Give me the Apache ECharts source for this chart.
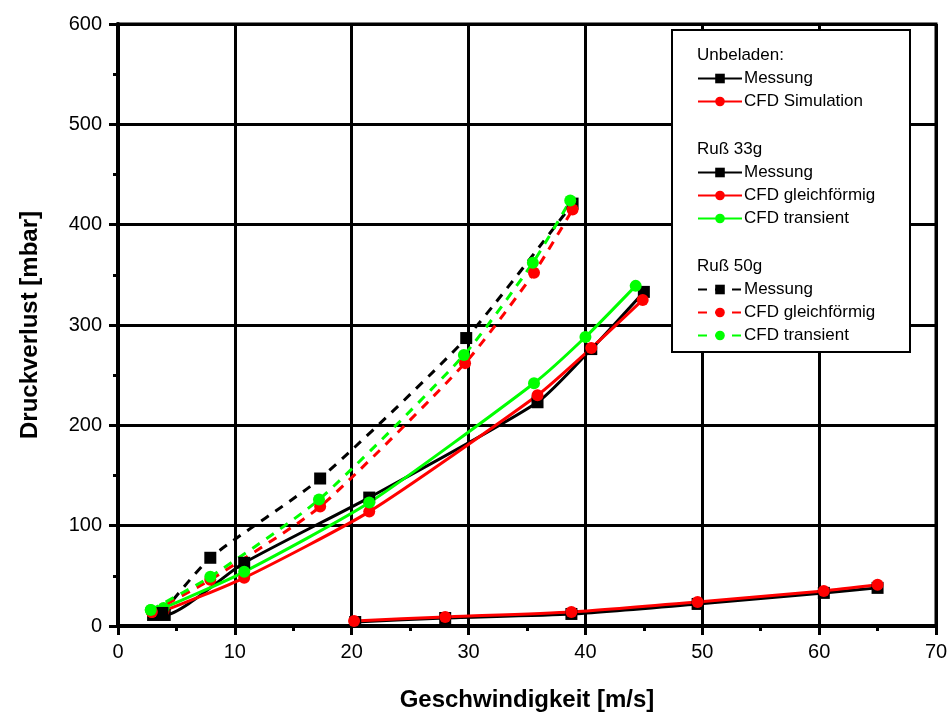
<!DOCTYPE html>
<html>
<head>
<meta charset="utf-8">
<script src="https://cdn.jsdelivr.net/npm/echarts@6/dist/echarts.min.js"></script>
<style>html,body{margin:0;padding:0;background:#fff;}#c{width:952px;height:720px;}</style>
</head>
<body>
<div id="c"></div>
<script>
// Data: [Geschwindigkeit m/s, Druckverlust mbar]
const unMessung  = [[20.3,4],[28.0,8],[38.8,12],[49.6,22],[60.4,33],[65.0,38]];
const unCFD      = [[20.2,5],[28.0,9],[38.8,14],[49.6,24],[60.4,35],[65.0,41]];
const r33Messung = [[3.0,11],[4.0,11],[10.8,63],[21.5,128],[35.9,223],[40.5,276],[45.0,333]];
const r33CFD     = [[2.9,14],[3.9,15],[10.8,48],[21.5,114],[35.9,230],[40.5,277],[44.9,325]];
const r33Trans   = [[2.8,16],[3.9,18],[10.8,54],[21.5,123],[35.6,242],[40.0,288],[44.3,339]];
const r50Messung = [[3.8,13],[7.9,68],[17.3,147],[29.8,287],[38.9,421]];
const r50CFD     = [[2.9,14],[7.9,46],[17.3,119],[29.7,262],[35.6,352],[38.9,415]];
const r50Trans   = [[2.8,16],[7.9,49],[17.2,126],[29.6,270],[35.5,362],[38.7,424]];

const groupHeaders = ['Unbeladen:', 'Ruß 33g', 'Ruß 50g'];
const xTitle = 'Geschwindigkeit [m/s]';
const yTitle = 'Druckverlust [mbar]';

const FONT = "'Liberation Sans', Arial, sans-serif";
const BLACK = '#000000', RED = '#ff0000', GREEN = '#00ff00';
const DASH = [9, 8];

function mk(name, data, color, symbol, dashed) {
  return {
    name: name, type: 'line', data: data, smooth: 0.2,
    symbol: symbol, symbolSize: 12, showSymbol: true,
    itemStyle: {color: color},
    lineStyle: {color: color, width: 3, type: dashed ? DASH : 'solid'},
    emphasis: {disabled: true}, animation: false, z: 2
  };
}

const series = [
  mk('Unbeladen: Messung', unMessung, BLACK, 'rect', false),
  mk('Unbeladen: CFD Simulation', unCFD, RED, 'circle', false),
  mk('Ruß 33g: Messung', r33Messung, BLACK, 'rect', false),
  mk('Ruß 33g: CFD gleichförmig', r33CFD, RED, 'circle', false),
  mk('Ruß 33g: CFD transient', r33Trans, GREEN, 'circle', false),
  mk('Ruß 50g: Messung', r50Messung, BLACK, 'rect', true),
  mk('Ruß 50g: CFD gleichförmig', r50CFD, RED, 'circle', true),
  mk('Ruß 50g: CFD transient', r50Trans, GREEN, 'circle', true)
];

function legend(names, top) {
  return {
    data: names, orient: 'vertical', left: 697, top: top, padding: 0,
    itemWidth: 44, itemHeight: 12, itemGap: 6, selectedMode: false, z: 6,
    formatter: n => n.split(': ')[1],
    textStyle: {fontFamily: FONT, fontSize: 17, color: '#000', padding: [0,0,0,-3]}
  };
}

const chart = echarts.init(document.getElementById('c'), null, {renderer: 'canvas'});
chart.setOption({
  animation: false,
  backgroundColor: '#fff',
  grid: {left: 118, right: 16, top: 24, bottom: 94, show: true, borderColor: '#000', borderWidth: 3, backgroundColor: 'transparent'},
  xAxis: {
    type: 'value', min: 0, max: 70, interval: 10,
    name: xTitle, nameLocation: 'middle', nameGap: 62,
    nameTextStyle: {fontFamily: FONT, fontSize: 24, fontWeight: 'bold', color: '#000'},
    axisLine: {show: true, lineStyle: {color: '#000', width: 4}},
    axisTick: {show: true, length: 9, lineStyle: {color: '#000', width: 3}},
    minorTick: {show: true, splitNumber: 2, length: 5, lineStyle: {color: '#000', width: 3}},
    axisLabel: {fontFamily: FONT, fontSize: 20, color: '#000', margin: 16},
    splitLine: {show: true, lineStyle: {color: '#000', width: 3}}
  },
  yAxis: {
    type: 'value', min: 0, max: 600, interval: 100,
    name: yTitle, nameLocation: 'middle', nameGap: 76,
    nameTextStyle: {fontFamily: FONT, fontSize: 24, fontWeight: 'bold', color: '#000'},
    axisLine: {show: true, lineStyle: {color: '#000', width: 4}},
    axisTick: {show: true, length: 9, lineStyle: {color: '#000', width: 3}},
    minorTick: {show: true, splitNumber: 2, length: 5, lineStyle: {color: '#000', width: 3}},
    axisLabel: {fontFamily: FONT, fontSize: 20, color: '#000', margin: 16},
    splitLine: {show: true, lineStyle: {color: '#000', width: 3}}
  },
  legend: [
    legend(['Unbeladen: Messung', 'Unbeladen: CFD Simulation'], 70),
    legend(['Ruß 33g: Messung', 'Ruß 33g: CFD gleichförmig', 'Ruß 33g: CFD transient'], 164),
    legend(['Ruß 50g: Messung', 'Ruß 50g: CFD gleichförmig', 'Ruß 50g: CFD transient'], 281)
  ],
  graphic: [
    {type: 'rect', z: 5, shape: {x: 672, y: 30, width: 238, height: 322},
     style: {fill: '#fff', stroke: '#000', lineWidth: 2}},
    {type: 'text', z: 7, left: 697, top: 47, style: {text: groupHeaders[0], font: '17px ' + FONT, fill: '#000'}},
    {type: 'text', z: 7, left: 697, top: 141, style: {text: groupHeaders[1], font: '17px ' + FONT, fill: '#000'}},
    {type: 'text', z: 7, left: 697, top: 258, style: {text: groupHeaders[2], font: '17px ' + FONT, fill: '#000'}}
  ],
  series: series
});
</script>
</body>
</html>
